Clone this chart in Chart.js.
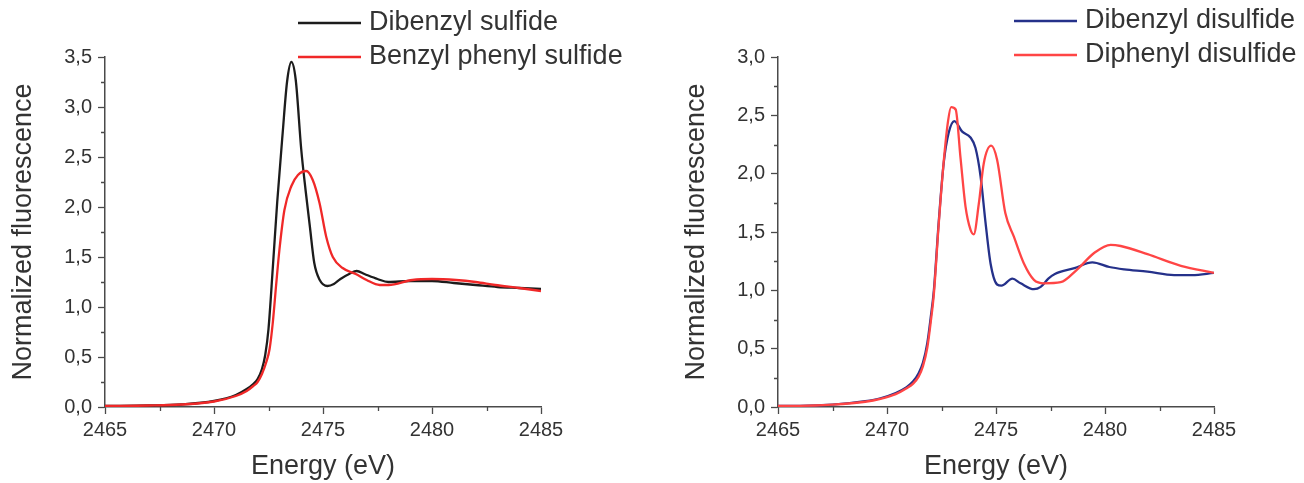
<!DOCTYPE html>
<html>
<head>
<meta charset="utf-8">
<title>S K-edge spectra</title>
<script src="https://cdn.jsdelivr.net/npm/chart.js@4.4.1/dist/chart.umd.min.js"></script>
<style>
  html, body { margin: 0; padding: 0; background: #fff; }
  #wrap { position: relative; width: 1304px; height: 483px; }
  canvas { position: absolute; top: 0; }
  #left { left: 0; }
  #right { left: 650px; }
</style>
</head>
<body>
<div id="wrap">
  <canvas id="left" width="650" height="483"></canvas>
  <canvas id="right" width="654" height="483"></canvas>
</div>
<script>
// left panel - sulfides
const dbsLabel = 'Dibenzyl sulfide'
const dbsEnergy = [2465, 2467, 2468.5, 2470, 2471, 2471.5, 2471.8, 2472.0, 2472.2, 2472.35, 2472.5, 2472.7, 2472.9, 2473.15, 2473.35, 2473.55, 2473.75, 2474.0, 2474.2, 2474.4, 2474.6, 2474.85, 2475.2, 2475.5, 2475.8, 2476.2, 2476.55, 2476.9, 2477.5, 2478, 2479, 2480, 2481, 2482, 2483, 2484, 2485]
const dbsValue = [0.01, 0.015, 0.025, 0.06, 0.12, 0.18, 0.23, 0.28, 0.38, 0.52, 0.78, 1.40, 2.05, 2.74, 3.25, 3.45, 3.27, 2.58, 2.17, 1.80, 1.44, 1.27, 1.21, 1.23, 1.28, 1.33, 1.36, 1.33, 1.28, 1.25, 1.26, 1.26, 1.24, 1.22, 1.20, 1.19, 1.18]

const bpsLabel = 'Benzyl phenyl sulfide'
const bpsEnergy = [2465, 2467, 2468.5, 2470, 2471, 2471.5, 2471.8, 2472.0, 2472.2, 2472.4, 2472.55, 2472.7, 2472.85, 2473.0, 2473.23, 2473.55, 2473.85, 2474.23, 2474.53, 2474.84, 2475.15, 2475.45, 2475.9, 2476.5, 2477.0, 2477.6, 2478, 2479.1, 2480, 2481.1, 2482, 2482.9, 2484, 2485]
const bpsValue = [0.01, 0.015, 0.025, 0.055, 0.11, 0.16, 0.21, 0.25, 0.33, 0.45, 0.58, 0.85, 1.22, 1.57, 1.97, 2.21, 2.32, 2.36, 2.27, 2.04, 1.70, 1.50, 1.39, 1.33, 1.27, 1.22, 1.22, 1.27, 1.28, 1.27, 1.25, 1.22, 1.19, 1.16]

// right panel - disulfides
const dbdsLabel = 'Dibenzyl disulfide'
const dbdsEnergy = [2465, 2466, 2467.5, 2469, 2469.7, 2470.4, 2470.9, 2471.2, 2471.45, 2471.65, 2471.85, 2472.0, 2472.15, 2472.37, 2472.6, 2472.83, 2473.09, 2473.45, 2473.83, 2474.06, 2474.29, 2474.52, 2474.75, 2475.05, 2475.25, 2475.75, 2476.13, 2476.74, 2477.05, 2477.4, 2477.7, 2478.6, 2479.42, 2480.2, 2480.88, 2481.95, 2483.17, 2484, 2485]
const dbdsValue = [0.01, 0.01, 0.02, 0.05, 0.075, 0.12, 0.17, 0.22, 0.29, 0.38, 0.55, 0.76, 1.0, 1.58, 2.09, 2.35, 2.45, 2.36, 2.31, 2.22, 1.98, 1.58, 1.23, 1.05, 1.04, 1.10, 1.06, 1.01, 1.03, 1.10, 1.14, 1.19, 1.24, 1.20, 1.18, 1.16, 1.13, 1.13, 1.15]

const dpdsLabel = 'Diphenyl disulfide'
const dpdsEnergy = [2465, 2466, 2467.5, 2469, 2469.7, 2470.4, 2470.9, 2471.2, 2471.45, 2471.65, 2471.85, 2472.0, 2472.15, 2472.37, 2472.6, 2472.8, 2472.94, 2473.15, 2473.37, 2473.6, 2473.83, 2473.98, 2474.21, 2474.44, 2474.78, 2475.05, 2475.43, 2475.82, 2476.28, 2476.74, 2477.2, 2477.97, 2478.73, 2479.5, 2480.26, 2480.72, 2481.95, 2483.48, 2485]
const dpdsValue = [0.01, 0.01, 0.02, 0.045, 0.07, 0.11, 0.16, 0.20, 0.26, 0.35, 0.51, 0.72, 0.97, 1.56, 2.10, 2.45, 2.57, 2.55, 2.14, 1.72, 1.52, 1.48, 1.74, 2.09, 2.24, 2.12, 1.66, 1.46, 1.23, 1.09, 1.06, 1.07, 1.18, 1.32, 1.39, 1.38, 1.31, 1.21, 1.15]

// axes
const xMin = 2465, xMax = 2485, xStep = 5
const xMinorTicks = [2467.5, 2472.5, 2477.5, 2482.5]
const yLeftMax = 3.5, yRightMax = 3.0, yStep = 0.5
const yMinorLeft = [0.25, 0.75, 1.25, 1.75, 2.25, 2.75, 3.25]
const yMinorRight = [0.25, 0.75, 1.25, 1.75, 2.25, 2.75]
const xTitle = 'Energy (eV)'
const yTitle = 'Normalized fluorescence'

const font = '"Liberation Sans", Arial, sans-serif'
const axisColor = '#4a4a4a'
const textColor = '#333'

function toPoints(xs, ys) {
    return xs.map((x, i) => ({ x: x, y: ys[i] }))
}

// short ticks between the labelled ones
const minorTicks = {
    id: 'minorTicks',
    afterDraw(chart, args, opts) {
        const ctx = chart.ctx
        const xs = chart.scales.x
        const ys = chart.scales.y
        ctx.save()
        ctx.strokeStyle = axisColor
        ctx.lineWidth = 1.3
        ctx.beginPath()
        opts.x.forEach(v => {
            const px = Math.round(xs.getPixelForValue(v)) + 0.5
            ctx.moveTo(px, ys.bottom)
            ctx.lineTo(px, ys.bottom + 4)
        })
        opts.y.forEach(v => {
            const py = Math.round(ys.getPixelForValue(v)) + 0.5
            ctx.moveTo(xs.left, py)
            ctx.lineTo(xs.left - 4, py)
        })
        ctx.stroke()
        ctx.restore()
    }
}

// legend with long line samples, placed like the original figure
const lineLegend = {
    id: 'lineLegend',
    afterDraw(chart, args, opts) {
        const ctx = chart.ctx
        ctx.save()
        ctx.font = '27px ' + font
        ctx.textBaseline = 'middle'
        ctx.textAlign = 'left'
        chart.data.datasets.forEach((ds, i) => {
            const y = opts.y + i * opts.gap
            ctx.strokeStyle = ds.borderColor
            ctx.lineWidth = 2.5
            ctx.beginPath()
            ctx.moveTo(opts.x, y)
            ctx.lineTo(opts.x + opts.len, y)
            ctx.stroke()
            ctx.fillStyle = textColor
            ctx.fillText(ds.label, opts.x + opts.len + 8, y)
        })
        ctx.restore()
    }
}

function makeChart(id, datasets, yMax, yMinor, p) {
    new Chart(document.getElementById(id), {
        type: 'line',
        data: { datasets: datasets },
        options: {
            responsive: false,
            animation: false,
            layout: { padding: { left: 0, top: 57, right: p.right, bottom: 0 } },
            elements: { point: { radius: 0 }, line: { borderWidth: 2.3, cubicInterpolationMode: 'monotone' } },
            plugins: {
                legend: { display: false },
                tooltip: { enabled: false },
                minorTicks: { x: xMinorTicks, y: yMinor },
                lineLegend: { x: p.legX, y: p.legY, gap: p.legGap, len: 63 }
            },
            scales: {
                x: {
                    type: 'linear',
                    min: xMin,
                    max: xMax,
                    grid: { drawOnChartArea: false, tickLength: 7, tickColor: axisColor, tickWidth: 1.3 },
                    border: { color: axisColor, width: 1.5 },
                    ticks: {
                        stepSize: xStep,
                        padding: 4,
                        color: textColor,
                        font: { family: font, size: 20 },
                        maxRotation: 0,
                        callback: v => String(v)
                    },
                    title: { display: true, text: xTitle, color: textColor, font: { family: font, size: 27, lineHeight: 1 }, padding: { top: 0, bottom: 3 } },
                    afterFit: s => { s.height = 76 }
                },
                y: {
                    min: 0,
                    max: yMax,
                    grid: { drawOnChartArea: false, tickLength: 7, tickColor: axisColor, tickWidth: 1.3 },
                    border: { color: axisColor, width: 1.5 },
                    ticks: {
                        stepSize: yStep,
                        padding: 6,
                        color: textColor,
                        font: { family: font, size: 20 },
                        callback: v => v.toFixed(1).replace('.', ',')
                    },
                    title: { display: true, text: yTitle, color: textColor, font: { family: font, size: 27, lineHeight: 1 }, padding: { top: p.yTitlePad, bottom: 0 } },
                    afterFit: s => { s.width = p.yWidth }
                }
            }
        },
        plugins: [minorTicks, lineLegend]
    })
}

window.onload = function() {
    makeChart('left', [
        { label: dbsLabel, data: toPoints(dbsEnergy, dbsValue), borderColor: '#1c1c1c', order: 1 },
        { label: bpsLabel, data: toPoints(bpsEnergy, bpsValue), borderColor: '#f02828', order: 0 }
    ], yLeftMax, yMinorLeft, { right: 109, yWidth: 105, yTitlePad: 10, legX: 298, legY: 23, legGap: 34 })

    makeChart('right', [
        { label: dbdsLabel, data: toPoints(dbdsEnergy, dbdsValue), borderColor: '#25318a', order: 1 },
        { label: dpdsLabel, data: toPoints(dpdsEnergy, dpdsValue), borderColor: '#ff4545', order: 0 }
    ], yRightMax, yMinorRight, { right: 90, yWidth: 128, yTitlePad: 33, legX: 364, legY: 21, legGap: 34 })
}
</script>
</body>
</html>
